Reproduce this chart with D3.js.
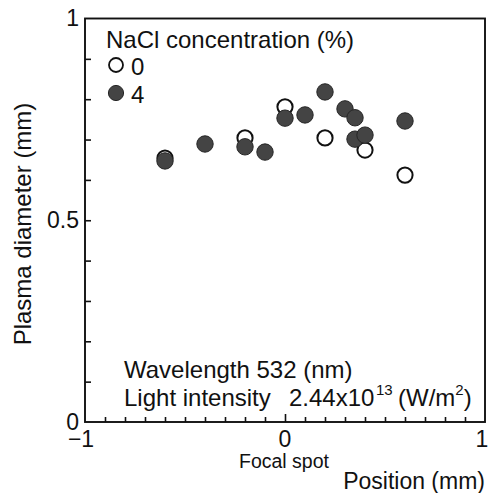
<!DOCTYPE html>
<html>
<head>
<meta charset="utf-8">
<script src="https://cdn.jsdelivr.net/npm/d3@7"></script>
<style>
  html, body { margin: 0; padding: 0; background: #fff; }
  svg { display: block; font-family: Arial, "Liberation Sans", sans-serif; }
  text { fill: #111; }
</style>
</head>
<body>
<svg id="chart" width="489" height="493"></svg>
<script>
// Plasma diameter vs. position, for two NaCl concentrations
const pos0 = [-0.6, -0.2, 0, 0.2, 0.4, 0.6];
const dia0 = [0.654, 0.704, 0.781, 0.704, 0.674, 0.612];

const pos4 = [-0.6, -0.4, -0.2, -0.1, 0, 0.1, 0.2, 0.3, 0.35, 0.35, 0.4, 0.6];
const dia4 = [0.647, 0.689, 0.682, 0.669, 0.753, 0.761, 0.818, 0.776, 0.754, 0.701, 0.711, 0.746];

const xTickLabels = [-1, 0, 1];
const yTickLabels = [0, 0.5, 1];
const concentrations = ["0", "4"];

const svg = d3.select("#chart");
const plotLeft = 85, plotRight = 485, plotTop = 18.5, plotBottom = 422;

const x = d3.scaleLinear().domain([-1, 1]).range([plotLeft, plotRight]);
const y = d3.scaleLinear().domain([0, 1]).range([plotBottom, plotTop]);

// Inward minor ticks along the left and bottom edges
const minorY = d3.range(1, 10).map(i => i / 10);
const minorX = d3.range(-9, 10).map(i => i / 10);

const yAxis = d3.axisLeft(y).tickValues(minorY).tickSize(-6).tickFormat("");
const xAxis = d3.axisBottom(x).tickValues(minorX).tickSize(-5).tickFormat("");

const gy = svg.append("g").attr("transform", `translate(${plotLeft},0)`).call(yAxis);
const gx = svg.append("g").attr("transform", `translate(0,${plotBottom})`).call(xAxis);
[gy, gx].forEach(g => {
  g.select(".domain").remove();
  g.selectAll("line").attr("stroke", "#111").attr("stroke-width", 1.6);
});
gx.selectAll(".tick").filter(d => Math.abs(d) < 1e-9)
  .select("line").attr("y2", -8);

// Frame
svg.append("rect")
  .attr("x", plotLeft).attr("y", plotTop)
  .attr("width", plotRight - plotLeft).attr("height", plotBottom - plotTop)
  .attr("fill", "none").attr("stroke", "#111").attr("stroke-width", 1.9);

// Tick labels
svg.selectAll(".ylab").data(yTickLabels).enter().append("text")
  .attr("class", "ylab")
  .attr("x", 79).attr("y", d => y(d)).attr("dy", "0.33em")
  .attr("text-anchor", "end").attr("font-size", 23)
  .text(d => d3.format("")(d));

svg.selectAll(".xlab").data(xTickLabels).enter().append("text")
  .attr("class", "xlab")
  .attr("x", d => x(d) + (d < 0 ? -4 : d > 0 ? -3 : 0)).attr("y", 447)
  .attr("text-anchor", "middle").attr("font-size", 23)
  .text(d => d < 0 ? "\u2212" + Math.abs(d) : d);

svg.append("text")
  .attr("x", 284).attr("y", 468)
  .attr("text-anchor", "middle").attr("font-size", 19.5)
  .text("Focal spot");

// Axis titles
svg.append("text")
  .attr("x", 485).attr("y", 489)
  .attr("text-anchor", "end").attr("font-size", 23)
  .text("Position (mm)");

svg.append("text")
  .attr("transform", "translate(31,224) rotate(-90)")
  .attr("text-anchor", "middle").attr("font-size", 24)
  .text("Plasma diameter (mm)");

// Data: open circles first, filled circles drawn over them
const data0 = pos0.map((p, i) => ({ p, d: dia0[i] }));
const data4 = pos4.map((p, i) => ({ p, d: dia4[i] }));

svg.append("g").selectAll("circle").data(data0).enter().append("circle")
  .attr("cx", d => x(d.p)).attr("cy", d => y(d.d)).attr("r", 7.6)
  .attr("fill", "#fff").attr("stroke", "#111").attr("stroke-width", 2);

svg.append("g").selectAll("circle").data(data4).enter().append("circle")
  .attr("cx", d => x(d.p)).attr("cy", d => y(d.d)).attr("r", 8.2)
  .attr("fill", "#444").attr("stroke", "#262626").attr("stroke-width", 1);

// Legend
svg.append("text")
  .attr("x", 106).attr("y", 48).attr("font-size", 24)
  .text("NaCl concentration (%)");

const leg = svg.append("g").selectAll("g").data(concentrations).enter().append("g")
  .attr("transform", (d, i) => `translate(0,${i * 28})`);
leg.append("circle")
  .attr("cx", 116).attr("cy", 65).attr("r", d => d === "0" ? 7 : 7.6)
  .attr("fill", d => d === "0" ? "#fff" : "#444")
  .attr("stroke", d => d === "0" ? "#111" : "#262626")
  .attr("stroke-width", d => d === "0" ? 1.8 : 1);
leg.append("text")
  .attr("x", 131).attr("y", 75).attr("font-size", 24)
  .text(d => d);

// Measurement conditions
svg.append("text")
  .attr("x", 124).attr("y", 378).attr("font-size", 24)
  .text("Wavelength 532 (nm)");

const li = svg.append("text")
  .attr("y", 406).attr("font-size", 24);
li.append("tspan").attr("x", 124).text("Light intensity");
li.append("tspan").attr("x", 289).text("2.44x10");
li.append("tspan").attr("x", 376).attr("dy", -11).attr("font-size", 15).text("13");
li.append("tspan").attr("x", 398).attr("dy", 11).text("(W/m");
li.append("tspan").attr("dy", -11).attr("font-size", 15).text("2");
li.append("tspan").attr("dy", 11).text(")");
</script>
</body>
</html>
